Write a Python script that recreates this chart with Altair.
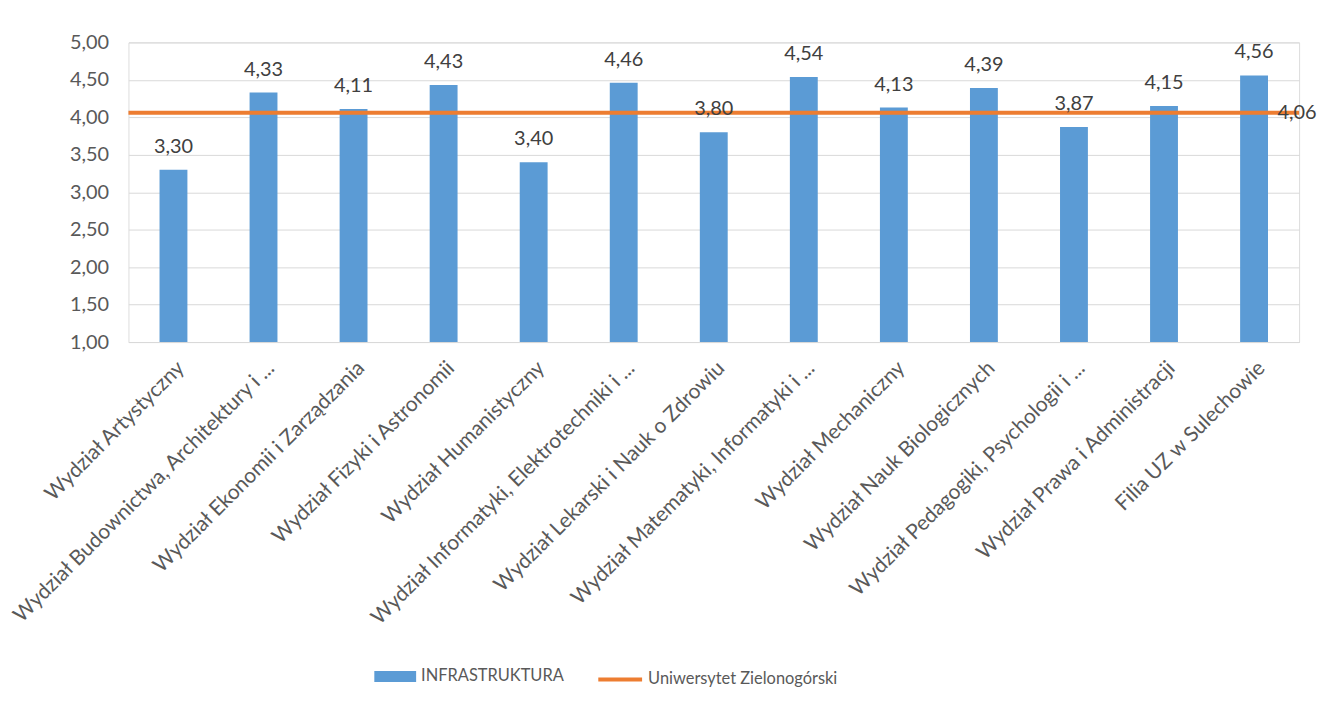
import altair as alt
import pandas as pd

categories = [
    "Wydział Artystyczny",
    "Wydział Budownictwa, Architektury i ...",
    "Wydział Ekonomii i Zarządzania",
    "Wydział Fizyki i Astronomii",
    "Wydział Humanistyczny",
    "Wydział Informatyki, Elektrotechniki i ...",
    "Wydział Lekarski i Nauk o Zdrowiu",
    "Wydział Matematyki, Informatyki i ...",
    "Wydział Mechaniczny",
    "Wydział Nauk Biologicznych",
    "Wydział Pedagogiki, Psychologii i ...",
    "Wydział Prawa i Administracji",
    "Filia UZ w Sulechowie",
]
values = [3.30, 4.33, 4.11, 4.43, 3.40, 4.46, 3.80, 4.54, 4.13, 4.39, 3.87, 4.15, 4.56]
average = 4.06
bar_series = "INFRASTRUKTURA"
line_series = "Uniwersytet Zielonogórski"
y_ticks = [1.0, 1.5, 2.0, 2.5, 3.0, 3.5, 4.0, 4.5, 5.0]

BLUE = "#5B9BD5"
ORANGE = "#ED7D31"
TEXT = "#595959"
FONT = "Lato"
W, H = 1176, 301

df = pd.DataFrame({"cat": categories, "val": values, "series": bar_series})
df_avg = pd.DataFrame({"val": [average], "series": [line_series]})

xenc = alt.X(
    "cat:N",
    sort=categories,
    title=None,
    scale=alt.Scale(paddingInner=0.69, paddingOuter=0.345),
    axis=alt.Axis(
        labelAngle=-45,
        labelFontSize=21,
        labelColor=TEXT,
        labelFont=FONT,
        labelPadding=15,
        labelLimit=0,
        labelOverlap=False,
        ticks=False,
        domainColor="#d9d9d9",
        domainWidth=1,
    ),
)
yscale = alt.Scale(domain=[1, 5], nice=False, zero=False)
yenc = alt.Y(
    "val:Q",
    scale=yscale,
    title=None,
    axis=alt.Axis(
        values=y_ticks,
        labelExpr="replace(format(datum.value, '.2f'), '.', ',')",
        labelFontSize=20,
        labelFont=FONT,
        labelColor=TEXT,
        labelPadding=20,
        labelOverlap=False,
        ticks=False,
        domain=False,
        gridColor="#d9d9d9",
        gridWidth=1,
    ),
)

bars = alt.Chart(df).mark_bar(size=28, clip=True).encode(
    x=xenc,
    y=yenc,
    fill=alt.Fill(
        "series:N",
        scale=alt.Scale(domain=[bar_series], range=[BLUE]),
        legend=alt.Legend(
            title=None,
            orient="none",
            legendX=247,
            legendY=616,
            symbolType="M-1,-0.26L1,-0.26L1,0.26L-1,0.26Z",
            symbolSize=1764,
            symbolStrokeWidth=0,
            symbolOpacity=1,
            labelFontSize=16.5,
            labelFont=FONT,
            labelColor=TEXT,
            labelOffset=5,
            labelLimit=0,
        ),
    ),
)

labels = alt.Chart(df).transform_calculate(
    lbl="replace(format(datum.val, '.2f'), '.', ',')"
).mark_text(
    baseline="alphabetic", dy=-17, fontSize=20, font=FONT, color="#404040"
).encode(
    x=xenc,
    y=yenc,
    text="lbl:N",
)

rule = alt.Chart(df_avg).mark_rule(strokeWidth=4).encode(
    y=yenc,
    stroke=alt.Stroke(
        "series:N",
        scale=alt.Scale(domain=[line_series], range=[ORANGE]),
        legend=alt.Legend(
            title=None,
            orient="none",
            legendX=470,
            legendY=616,
            symbolType="stroke",
            symbolSize=1936,
            symbolStrokeWidth=4,
            labelFontSize=16.5,
            labelFont=FONT,
            labelColor=TEXT,
            labelOffset=4,
            labelLimit=0,
        ),
    ),
)

avg_label = alt.Chart(df_avg).transform_calculate(
    lbl="replace(format(datum.val, '.2f'), '.', ',')"
).mark_text(
    align="center", baseline="middle", fontSize=20, font=FONT, color="#404040"
).encode(
    x=alt.value(W - 2),
    y=yenc,
    text="lbl:N",
)

chart = (
    alt.layer(bars, rule, labels, avg_label)
    .properties(
        width=W,
        height=H,
        autosize=alt.AutoSizeParams(type="none"),
        padding={"left": 121, "top": 33, "right": 18, "bottom": 355},
    )
    .configure_view(stroke=None)
    .configure(background="white")
)

chart.save("out.html", embed_options={"renderer": "svg", "actions": False})
